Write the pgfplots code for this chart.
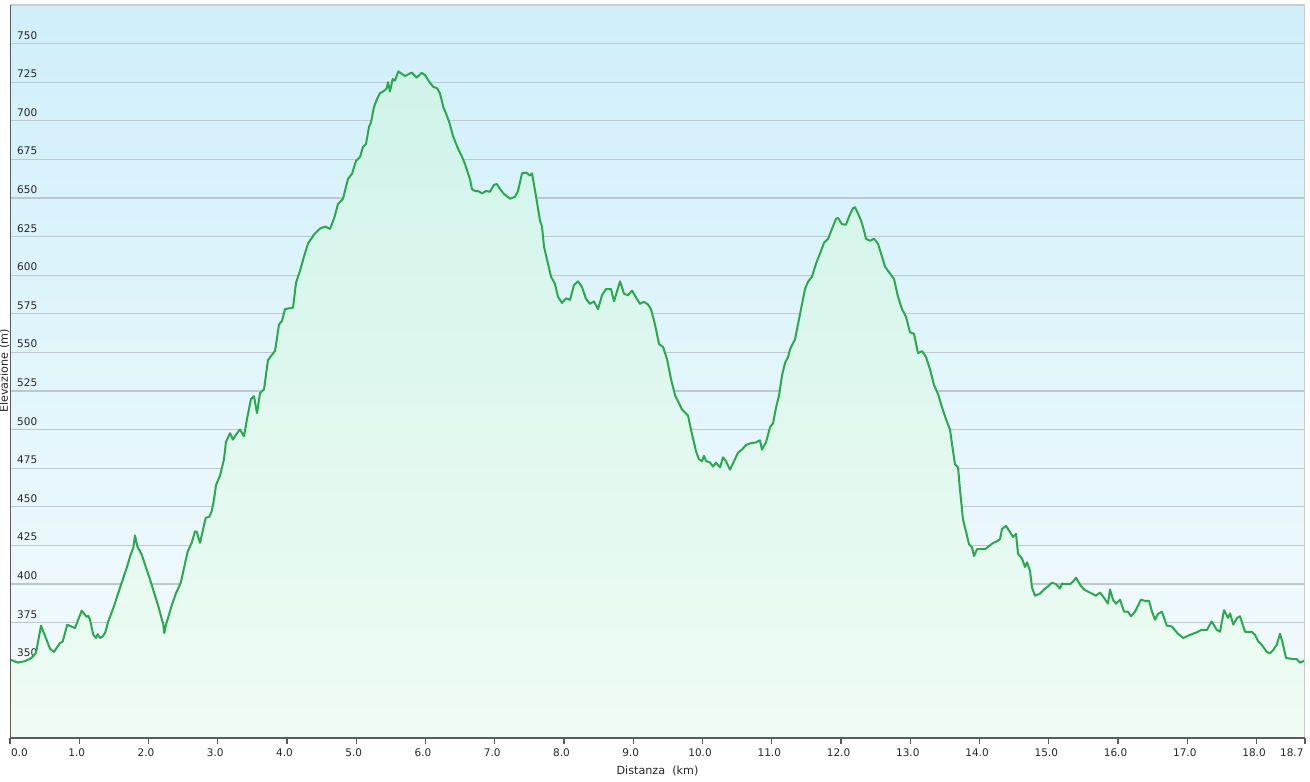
\documentclass[border=0pt]{standalone}
\usepackage{fontspec}
\setmainfont{DejaVu Sans}
\usepackage{pgfplots}
\pgfplotsset{compat=1.18}
\usepackage{pgfplotstable}
\definecolor{linegreen}{RGB}{42,168,78}
\definecolor{bgtop}{RGB}{208,239,250}
\definecolor{bgbot}{RGB}{244,251,253}
\definecolor{filltop}{RGB}{208,243,234}
\definecolor{fillbot}{RGB}{239,252,243}
\definecolor{gridc}{RGB}{190,199,203}
\definecolor{axdark}{RGB}{90,90,90}
\definecolor{axlight}{RGB}{200,205,208}
\pgfplotstableread{
km m
0.000 351
0.116 349
0.217 350
0.289 351.5
0.332 353
0.375 355.4
0.448 373
0.578 358
0.635 356
0.722 361.7
0.761 362.7
0.827 373.6
0.939 371.4
1.035 382.7
1.108 378.6
1.131 379.4
1.155 376.8
1.203 367
1.242 365
1.266 367.5
1.300 365
1.339 366
1.376 368.6
1.419 375.7
1.492 384.4
1.588 397.4
1.685 410.4
1.743 419
1.781 423.4
1.805 431.4
1.838 424.4
1.902 419
2.022 402.8
2.142 385.5
2.214 373.6
2.228 368.2
2.253 373.6
2.335 386
2.397 394
2.465 400.6
2.566 421
2.624 426.6
2.671 434
2.696 433.8
2.744 426.6
2.826 442.8
2.878 443.5
2.913 447
2.946 454.7
2.975 464
3.032 470
3.090 480.7
3.119 492
3.177 497.6
3.220 493.5
3.278 497.6
3.321 500
3.379 495.6
3.422 506.7
3.480 519.7
3.523 521.6
3.567 510.6
3.610 523.6
3.668 526
3.726 545
3.769 547.6
3.827 550.8
3.884 568
3.928 570.4
3.971 578
4.087 579
4.130 595
4.188 602.9
4.245 612
4.303 620.4
4.390 626.3
4.477 630.2
4.549 631.5
4.621 630
4.679 636.6
4.736 646
4.809 649.5
4.881 662.4
4.939 665.7
4.996 674
5.054 676.5
5.097 683
5.141 685
5.184 696
5.213 699
5.256 709
5.300 714
5.343 718
5.391 719
5.440 721
5.459 725
5.487 719
5.526 727
5.560 726
5.607 732
5.704 729
5.801 731.2
5.873 728
5.945 731
5.993 729.6
6.065 724.5
6.113 722
6.170 721
6.209 717.8
6.257 709
6.306 703.6
6.344 699
6.401 689.6
6.469 682
6.527 676.7
6.570 672
6.643 662
6.671 655.7
6.715 654.5
6.758 654.5
6.816 653
6.874 654.5
6.931 654
6.989 658.5
7.032 659
7.076 655.7
7.134 652.6
7.220 649.5
7.292 650.7
7.336 654.5
7.394 666
7.451 666.5
7.509 664.5
7.538 666
7.596 651
7.653 635.4
7.682 631.5
7.711 618.4
7.769 607.4
7.812 599
7.870 594.3
7.913 586
7.971 582
8.029 585
8.087 584
8.144 593.6
8.202 596
8.260 592.3
8.318 584.6
8.375 581.4
8.433 583
8.491 578
8.549 587
8.606 591
8.679 591
8.722 583
8.809 596
8.866 588
8.924 587
8.982 590
9.040 585.6
9.097 581.4
9.155 582.7
9.213 581
9.256 578
9.314 568
9.372 555.4
9.430 553.5
9.487 545.7
9.545 532.7
9.603 522.3
9.661 517
9.704 513
9.791 509
9.848 497
9.906 486
9.949 480.7
9.993 479.5
10.022 483
10.051 479.5
10.108 478.7
10.152 476
10.195 478.5
10.253 475.5
10.296 482
10.339 479.5
10.397 474
10.455 479.5
10.513 485
10.570 487
10.628 490
10.686 491
10.773 491.7
10.830 493
10.859 487
10.917 491.7
10.975 501.5
11.018 504
11.061 514
11.105 522
11.148 535
11.191 543
11.235 547
11.264 552
11.336 558.4
11.408 574.8
11.480 591
11.523 595.7
11.581 599
11.639 607.4
11.697 614
11.755 621
11.812 623.5
11.870 630
11.928 636.6
11.957 637
12.014 633
12.072 632.7
12.116 638
12.173 643.3
12.202 644
12.245 640
12.289 635.4
12.332 629
12.361 623.5
12.419 622.3
12.477 623.5
12.534 620.4
12.592 612
12.635 605.6
12.708 600.9
12.765 597.6
12.823 586
12.881 578
12.939 573
12.996 563
13.054 562
13.112 549.5
13.170 550.8
13.227 547
13.285 539
13.343 528.8
13.401 523
13.458 514.5
13.516 506.7
13.574 500
13.603 490.5
13.646 477.5
13.690 475.5
13.718 461
13.762 441.7
13.805 434
13.848 425.7
13.892 423.7
13.921 418
13.964 422.5
14.022 422.5
14.080 422.5
14.137 424.5
14.195 426.5
14.253 427.6
14.296 429
14.325 435.6
14.383 437.6
14.440 433.6
14.484 430.4
14.527 432.4
14.556 419.5
14.614 416.4
14.657 411
14.686 414
14.729 408.6
14.758 397.6
14.801 392.4
14.874 393.7
14.931 396.4
14.989 398.4
15.047 400.8
15.105 399.8
15.162 397
15.191 400.2
15.249 399.8
15.307 399.8
15.350 401.5
15.394 404
15.451 399.5
15.509 396.4
15.567 395
15.625 393.7
15.682 392.4
15.740 394.4
15.798 391
15.856 387.2
15.884 396.4
15.928 389.8
15.971 387.2
16.029 389.8
16.087 382
16.144 382
16.188 379
16.245 382
16.289 386
16.332 389.8
16.390 389
16.448 389
16.491 382
16.534 376.8
16.578 380.6
16.635 382
16.703 373
16.775 372.5
16.866 367.7
16.943 365
17.040 367
17.136 368.6
17.209 370.3
17.281 370
17.353 375.7
17.425 370.3
17.473 369
17.531 383
17.589 378
17.618 381
17.665 373.6
17.718 378
17.762 379
17.834 369
17.931 369
17.978 367
18.026 362.7
18.075 360.6
18.147 356
18.195 355
18.243 357.3
18.292 360.6
18.339 367.7
18.378 361.7
18.426 352
18.532 351.3
18.580 351.3
18.628 349
18.700 350.4
}\profile
\begin{document}
\begin{tikzpicture}[font=\fontsize{10.5}{12}\selectfont]
\path[use as bounding box] (0,0) rectangle (1310pt,782pt);
\clip (0,0) rectangle (1310pt,782pt);
\begin{axis}[
  at={(10pt,43.7pt)}, anchor=south west,
  scale only axis, width=1295pt, height=733.3pt,
  xmin=0, xmax=18.7, ymin=300, ymax=775,
  axis background/.style={shade, top color=bgtop, bottom color=bgbot},
  axis line style={draw=none},
  ytick={325,350,...,750},
  ymajorgrids, grid style={color=gridc, line width=1.2pt},
  ytick style={draw=none},
  yticklabel style={anchor=base west, inner sep=0pt, xshift=13pt, yshift=4.5pt, text=black!85},
  xtick={0,1,...,18,18.7},
  xtick pos=lower,
  tick align=outside, major tick length=6pt,
  xtick style={color=axdark, line width=1.2pt},
  xticklabels={\makebox[0pt][l]{\hspace{3.5pt}0.0},1.0,2.0,3.0,4.0,5.0,6.0,7.0,8.0,9.0,10.0,11.0,12.0,13.0,14.0,15.0,16.0,17.0,18.0,\makebox[0pt][r]{18.7\hspace{-1pt}}},
  xticklabel style={anchor=base, inner sep=0pt, xshift=-2.5pt, yshift=-12.5pt, text=black!85},
  /pgf/number format/assume math mode=true,
  yticklabel={\pgfmathprintnumber[fixed, precision=0]{\tick}},
  xlabel={Distanza\ \ (km)},
  xlabel style={at={(rel axis cs:0.5,0)}, anchor=base, yshift=-36.7pt, inner sep=0pt, text=black!85, font=\fontsize{11.2}{13}\selectfont},
  clip=true,
]
\addplot[draw=none, shade, top color=filltop, bottom color=fillbot] table[x=km, y=m] {\profile} -- (axis cs:18.7,300) -- (axis cs:0,300) -- cycle;
\addplot[color=linegreen, line width=2pt, line join=round, mark=none] table[x=km, y=m] {\profile};
\draw[axlight, line width=1.2pt] (rel axis cs:0,1) -- (rel axis cs:1,1) -- (rel axis cs:1,0);
\draw[axdark, line width=2pt] (rel axis cs:0,1) -- (rel axis cs:0,0) -- (rel axis cs:1,0);
\end{axis}
\node[rotate=90, anchor=base, inner sep=0pt, text=black!85, font=\fontsize{11.2}{13}\selectfont] at (8pt,411pt) {Elevazione (m)};
\end{tikzpicture}
\end{document}
